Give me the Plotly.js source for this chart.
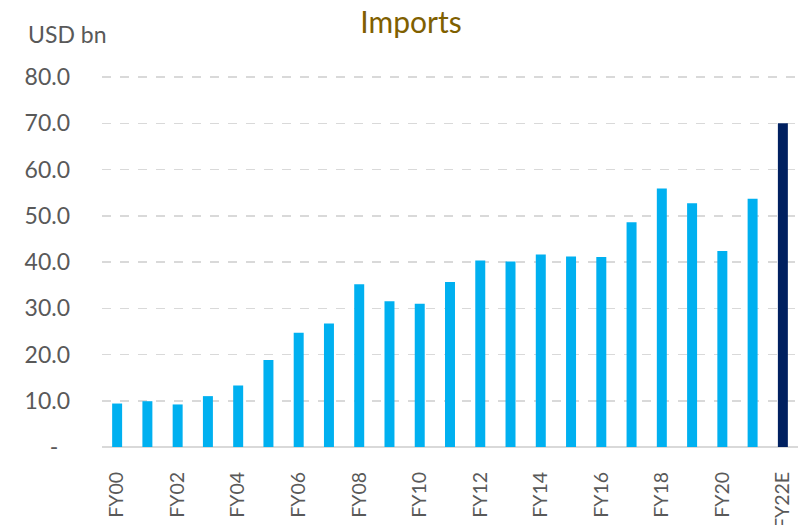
<!DOCTYPE html>
<html>
<head>
<meta charset="utf-8">
<script src="https://cdn.plot.ly/plotly-3.0.1.min.js"></script>
<style>html,body{margin:0;padding:0;background:#fff;}#chart{width:810px;height:525px;}</style>
</head>
<body>
<div id="chart"></div>
<script>
const categories = ["FY00","FY01","FY02","FY03","FY04","FY05","FY06","FY07","FY08","FY09","FY10","FY11",
  "FY12","FY13","FY14","FY15","FY16","FY17","FY18","FY19","FY20","FY21","FY22E"];
const imports = [9.4, 9.9, 9.2, 11.0, 13.3, 18.8, 24.7, 26.7, 35.2, 31.5, 31.0, 35.7,
  40.3, 40.1, 41.6, 41.2, 41.1, 48.6, 55.9, 52.7, 42.4, 53.7, 70.0];
const xTickVals = ["FY00","FY02","FY04","FY06","FY08","FY10","FY12","FY14","FY16","FY18","FY20","FY22E"];
const yTickVals = [0, 10, 20, 30, 40, 50, 60, 70, 80];
const yTickText = ["-\u00a0\u00a0", "10.0", "20.0", "30.0", "40.0", "50.0", "60.0", "70.0", "80.0"];

const colors = categories.map(c => c.endsWith("E") ? "#002060" : "#00B0F0");
const FONT = "Lato, 'Open Sans', sans-serif";

const trace = {
  type: "bar",
  x: categories,
  y: imports,
  marker: {color: colors},
  hoverinfo: "x+y"
};

const layout = {
  width: 810, height: 525,
  margin: {l: 102, r: 12, t: 74, b: 78},
  paper_bgcolor: "#ffffff",
  plot_bgcolor: "#ffffff",
  bargap: 0.67,
  showlegend: false,
  font: {family: FONT, color: "#595959", size: 22},
  title: {
    text: "Imports",
    font: {family: FONT, size: 30, color: "#7F6000"},
    xref: "container", x: 411 / 810, xanchor: "center",
    yref: "container", y: 1 - 22 / 525, yanchor: "middle"
  },
  xaxis: {
    type: "category",
    automargin: false,
    tickmode: "array",
    tickvals: xTickVals,
    ticktext: xTickVals,
    tickangle: -90,
    tickfont: {family: FONT, size: 19.5, color: "#595959"},
    ticks: "",
    ticklabelstandoff: 20,
    showgrid: false,
    showline: false,
    zeroline: false
  },
  yaxis: {
    range: [0, 80.65],
    automargin: false,
    tickmode: "array",
    tickvals: yTickVals,
    ticktext: yTickText,
    tickfont: {family: FONT, size: 23, color: "#595959"},
    ticks: "",
    ticklabelstandoff: 31,
    showgrid: true,
    gridcolor: "#D9D9D9",
    gridwidth: 1.5,
    griddash: "dash",
    zeroline: true,
    zerolinecolor: "#D9D9D9",
    zerolinewidth: 2,
    showline: false
  },
  annotations: [{
    text: "USD bn",
    xref: "paper", yref: "paper",
    x: (26 - 102) / 696, xanchor: "left",
    y: (447 - 34) / 373, yanchor: "middle",
    showarrow: false,
    font: {family: FONT, size: 23, color: "#595959"}
  }]
};

Plotly.newPlot("chart", [trace], layout, {displayModeBar: false, staticPlot: true});
</script>
</body>
</html>
